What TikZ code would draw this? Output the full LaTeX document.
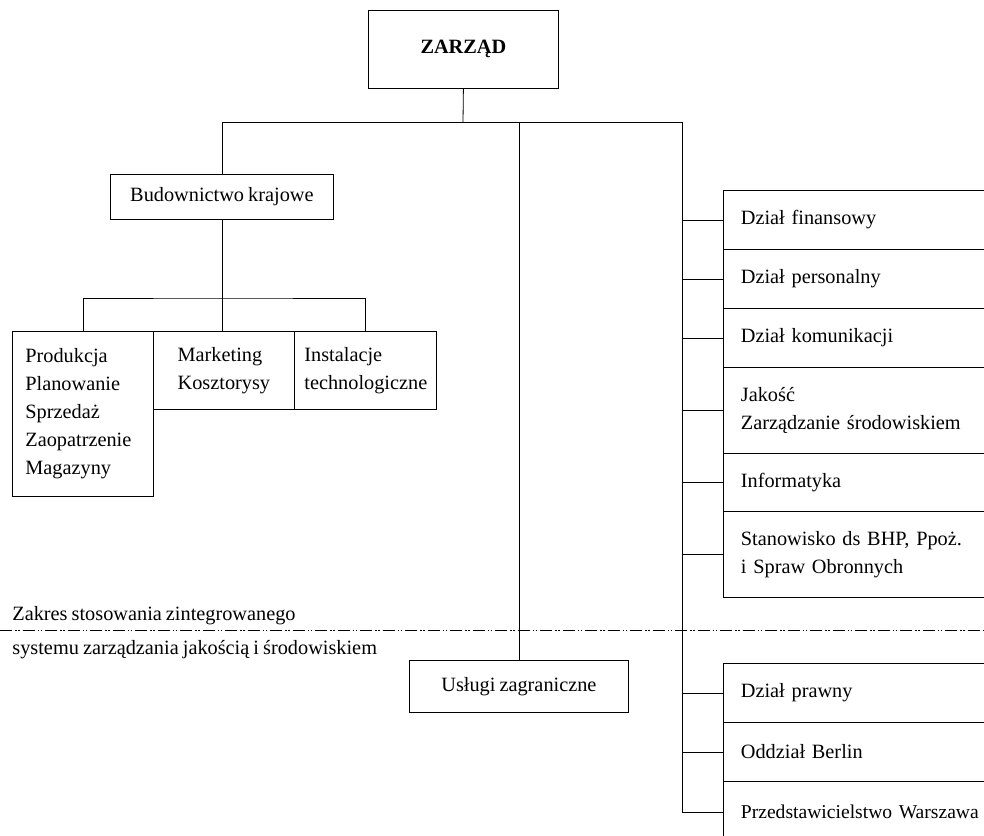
\documentclass[tikz,border=0pt]{standalone}
\usepackage{fontspec}
\setmainfont{Liberation Serif}[WordSpace=0.8]
\usepackage{tikz}

\tikzset{
  box/.style={draw, rectangle, inner sep=0pt, anchor=north west},
  dzial/.style={box, minimum height=59pt, text width=265pt, inner xsep=17.5pt, align=left},
  zakres/.style={dash pattern=on 12pt off 3pt on 1.5pt off 1.5pt on 1.5pt off 3pt, line width=0.6pt}
}

\begin{document}
\begin{tikzpicture}[x=1pt, y=-1pt, line width=0.8pt]
            \tikzstyle{every node}=[font=\fontsize{20.3}{28}\selectfont]
            \clip (0,0) rectangle (984,835);
            \node[box, minimum width=190pt, minimum height=78pt, font=\fontsize{20.3}{28}\selectfont\bfseries] (zarzad) at (368,10) {ZARZĄD};
            \node[box, minimum width=223pt, minimum height=45pt] (budownictwo) at (110,174) {Budownictwo krajowe};
            \node[box, minimum width=141pt, minimum height=165pt, text width=115pt, inner xsep=13pt, align=left] (produkcja) at (12,331) {Produkcja\\Planowanie\\Sprzedaż\\Zaopatrzenie\\Magazyny};
            \node[box, minimum width=141pt, minimum height=78pt, align=left] (marketing) at (153,331) {Marketing\\Kosztorysy};
            \node[box, minimum width=142pt, minimum height=78pt, text width=122pt, inner xsep=10pt, align=left] (instalacje) at (294,331) {Instalacje\\technologiczne};
            \node[box, minimum width=219pt, minimum height=52pt] (uslugi) at (409,660) {Usługi zagraniczne};

            % dzialy po prawej
            \node[dzial] (finanse) at (723,190) {Dział finansowy};
            \node[dzial] (kadry) at (723,249) {Dział personalny};
            \node[dzial] (komunikacja) at (723,308) {Dział komunikacji};
            \node[dzial, minimum height=86pt] (jakosc) at (723,367) {Jakość\\Zarządzanie środowiskiem};
            \node[dzial, minimum height=58pt] (informatyka) at (723,453) {Informatyka};
            \node[dzial, minimum height=86pt] (bhp) at (723,511) {Stanowisko ds BHP, Ppoż.\\i Spraw Obronnych};
            \node[dzial] (prawny) at (723,663) {Dział prawny};
            \node[dzial] (berlin) at (723,722) {Oddział Berlin};
            \node[dzial, minimum height=61pt, font=\fontsize{19.6}{28}\selectfont] (warszawa) at (723,781) {Przedstawicielstwo Warszawa};

            \coordinate (hub) at (463,122);
            \coordinate (rbus) at (682,122);
            \coordinate (split) at (222,298);

            \draw (zarzad.south) -- (hub);
            \draw (budownictwo.north) |- (rbus) -- (rbus |- warszawa.west) -- (warszawa.west);
            \draw (uslugi.north |- hub) -- (uslugi.north);
            \foreach \d in {finanse, kadry, komunikacja, jakosc, informatyka, bhp, prawny, berlin}
              \draw (rbus |- \d.west) -- (\d.west);

            \draw (budownictwo.south) -- (budownictwo.south |- marketing.north);
            \draw (produkcja.north) |- (split) -| (instalacje.north);

            % zakres systemu
            \coordinate (zl) at (0,630);
            \coordinate (zr) at (984,630);
            \draw[zakres] (zl) -- (zr);
            \node[anchor=base west, inner sep=0pt] (zakres1) at (12,620) {Zakres stosowania zintegrowanego};
            \node[anchor=base west, inner sep=0pt] (zakres2) at (12,654) {systemu zarządzania jakością i środowiskiem};
          \end{tikzpicture}
\end{document}
